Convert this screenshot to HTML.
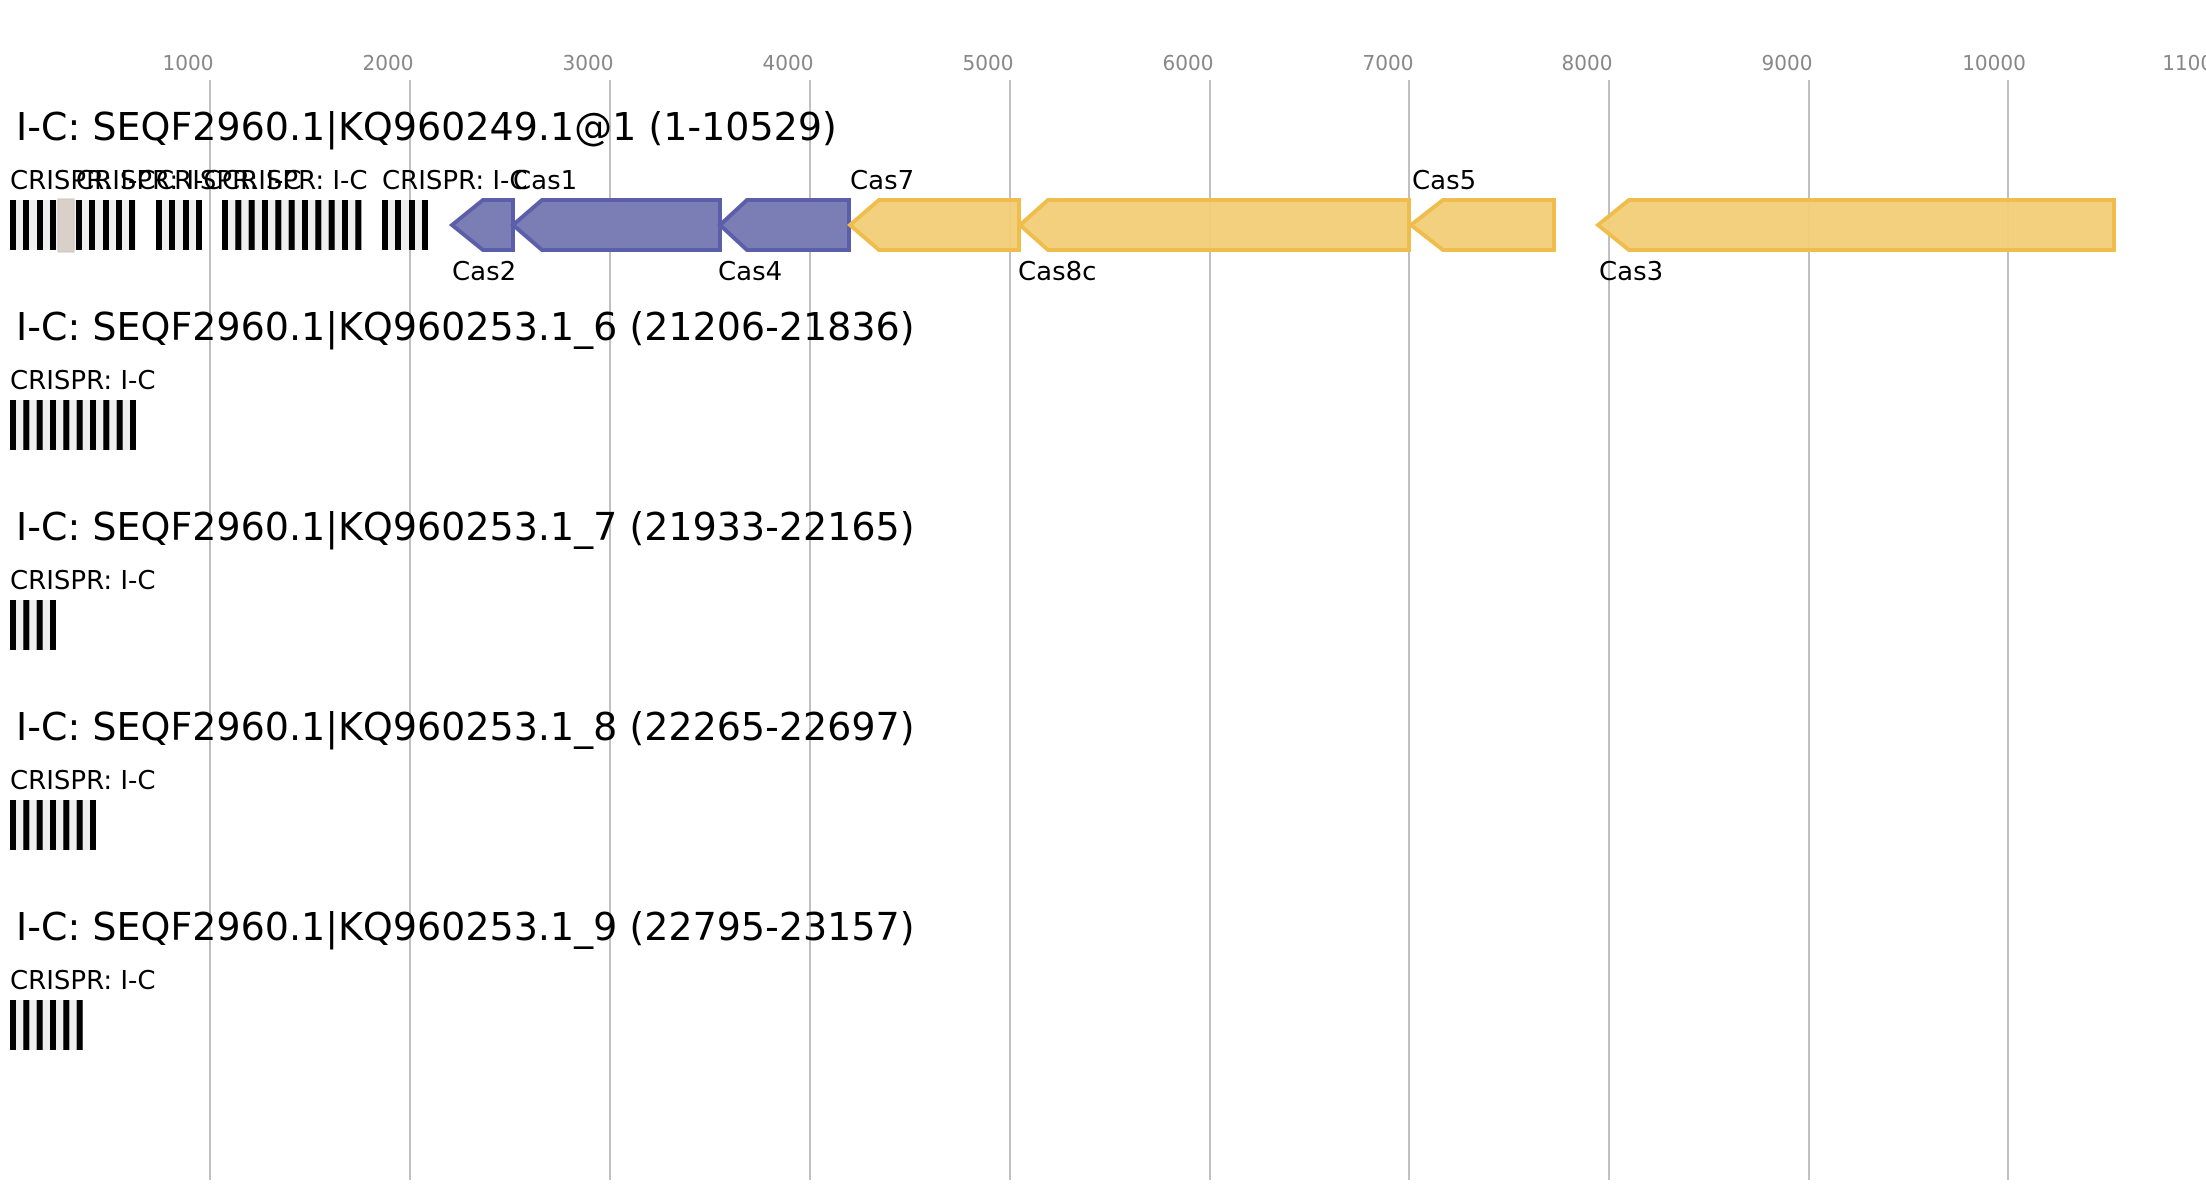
<!DOCTYPE html>
<html><head><meta charset="utf-8"><style>
html,body{margin:0;padding:0;background:#fff;}
svg{display:block;font-family:"DejaVu Sans","Liberation Sans",sans-serif;}
.tk{font-size:20px;fill:#888;text-anchor:middle;}
.ti{font-size:38px;fill:#000;}
.lb{font-size:26px;fill:#000;}
.g{stroke:#c0c0c0;stroke-width:2;}
.bb{fill:#000;}
.bg{fill:#eee;}
.bl{fill:#7b7db5;stroke:#5b5ea8;stroke-width:4;}
.yl{fill:#f1cd76;stroke:#eebd4c;stroke-width:4;}
</style></head><body>
<svg width="2206" height="1200" viewBox="0 0 2206 1200">
<g class="tk">
<text x="188" y="70">1000</text><text x="388" y="70">2000</text><text x="588" y="70">3000</text><text x="788" y="70">4000</text><text x="988" y="70">5000</text><text x="1188" y="70">6000</text><text x="1388" y="70">7000</text><text x="1587" y="70">8000</text><text x="1787" y="70">9000</text><text x="1994" y="70">10000</text><text x="2194" y="70">11000</text>
</g>
<g class="g">
<line x1="210" y1="80" x2="210" y2="1180"/><line x1="410" y1="80" x2="410" y2="1180"/><line x1="610" y1="80" x2="610" y2="1180"/><line x1="810" y1="80" x2="810" y2="1180"/><line x1="1010" y1="80" x2="1010" y2="1180"/><line x1="1210" y1="80" x2="1210" y2="1180"/><line x1="1409" y1="80" x2="1409" y2="1180"/><line x1="1609" y1="80" x2="1609" y2="1180"/><line x1="1809" y1="80" x2="1809" y2="1180"/><line x1="2008" y1="80" x2="2008" y2="1180"/>
</g>

<text class="ti" x="16" y="140">I-C: SEQF2960.1|KQ960249.1@1 (1-10529)</text>
<text class="ti" x="16" y="340">I-C: SEQF2960.1|KQ960253.1_6 (21206-21836)</text>
<text class="ti" x="16" y="540">I-C: SEQF2960.1|KQ960253.1_7 (21933-22165)</text>
<text class="ti" x="16" y="740">I-C: SEQF2960.1|KQ960253.1_8 (22265-22697)</text>
<text class="ti" x="16" y="940">I-C: SEQF2960.1|KQ960253.1_9 (22795-23157)</text>

<!-- row1 CRISPR -->
<g class="lb">
<text x="10" y="189">CRISPR: I-C</text>
<text x="76" y="189">CRISPR: I-C</text>
<text x="156" y="189">CRISPR: I-C</text>
<text x="222" y="189">CRISPR: I-C</text>
<text x="382" y="189">CRISPR: I-C</text>
</g>
<rect class="bg" x="10" y="200" width="126" height="50"/>
<g class="bb">
<rect x="10" y="200" width="6" height="50"/><rect x="23" y="200" width="6" height="50"/><rect x="37" y="200" width="6" height="50"/><rect x="50" y="200" width="6" height="50"/>
<rect x="76" y="200" width="6" height="50"/><rect x="89" y="200" width="6" height="50"/><rect x="103" y="200" width="6" height="50"/><rect x="116" y="200" width="6" height="50"/><rect x="129" y="200" width="6" height="50"/>
</g>
<rect x="58" y="199" width="16" height="53" fill="#d9d0c9" stroke="#cfc4ba" stroke-width="1"/>
<rect class="bg" x="156" y="200" width="46" height="50"/>
<g class="bb"><rect x="156" y="200" width="6" height="50"/><rect x="169" y="200" width="6" height="50"/><rect x="183" y="200" width="6" height="50"/><rect x="196" y="200" width="6" height="50"/></g>
<rect class="bg" x="222" y="200" width="140" height="50"/>
<g class="bb">
<rect x="222" y="200" width="6" height="50"/><rect x="235.3" y="200" width="6" height="50"/><rect x="248.7" y="200" width="6" height="50"/><rect x="262" y="200" width="6" height="50"/><rect x="275.3" y="200" width="6" height="50"/><rect x="288.7" y="200" width="6" height="50"/><rect x="302" y="200" width="6" height="50"/><rect x="315.3" y="200" width="6" height="50"/><rect x="328.7" y="200" width="6" height="50"/><rect x="342" y="200" width="6" height="50"/><rect x="355.3" y="200" width="6" height="50"/>
</g>
<rect class="bg" x="382" y="200" width="46" height="50"/>
<g class="bb"><rect x="382" y="200" width="6" height="50"/><rect x="395" y="200" width="6" height="50"/><rect x="409" y="200" width="6" height="50"/><rect x="422" y="200" width="6" height="50"/></g>

<!-- genes -->
<polygon class="bl" points="452,225 483,200 513,200 513,250 483,250"/>
<polygon class="bl" points="513,225 542,200 720,200 720,250 542,250"/>
<polygon class="bl" points="720,225 747,200 849,200 849,250 747,250"/>
<polygon class="yl" fill-opacity="0.95" points="850,225 879,200 1019,200 1019,250 879,250"/>
<polygon class="yl" fill-opacity="0.95" points="1020,225 1048,200 1409,200 1409,250 1048,250"/>
<polygon class="yl" fill-opacity="0.95" points="1411,225 1443,200 1554,200 1554,250 1443,250"/>
<polygon class="yl" fill-opacity="0.95" points="1598,225 1629,200 2114,200 2114,250 1629,250"/>
<g class="lb">
<text x="513" y="189">Cas1</text><text x="850" y="189">Cas7</text><text x="1412" y="189">Cas5</text>
<text x="452" y="280">Cas2</text><text x="718" y="280">Cas4</text><text x="1018" y="280">Cas8c</text><text x="1599" y="280">Cas3</text>
</g>

<!-- row2 -->
<text class="lb" x="10" y="389">CRISPR: I-C</text>
<rect class="bg" x="10" y="400" width="126" height="50"/>
<g class="bb">
<rect x="10" y="400" width="6" height="50"/><rect x="23.3" y="400" width="6" height="50"/><rect x="36.7" y="400" width="6" height="50"/><rect x="50" y="400" width="6" height="50"/><rect x="63.3" y="400" width="6" height="50"/><rect x="76.7" y="400" width="6" height="50"/><rect x="90" y="400" width="6" height="50"/><rect x="103.3" y="400" width="6" height="50"/><rect x="116.7" y="400" width="6" height="50"/><rect x="130" y="400" width="6" height="50"/>
</g>
<!-- row3 -->
<text class="lb" x="10" y="589">CRISPR: I-C</text>
<rect class="bg" x="10" y="600" width="46" height="50"/>
<g class="bb"><rect x="10" y="600" width="6" height="50"/><rect x="23.3" y="600" width="6" height="50"/><rect x="36.7" y="600" width="6" height="50"/><rect x="50" y="600" width="6" height="50"/></g>
<!-- row4 -->
<text class="lb" x="10" y="789">CRISPR: I-C</text>
<rect class="bg" x="10" y="800" width="86" height="50"/>
<g class="bb"><rect x="10" y="800" width="6" height="50"/><rect x="23.3" y="800" width="6" height="50"/><rect x="36.7" y="800" width="6" height="50"/><rect x="50" y="800" width="6" height="50"/><rect x="63.3" y="800" width="6" height="50"/><rect x="76.7" y="800" width="6" height="50"/><rect x="90" y="800" width="6" height="50"/></g>
<!-- row5 -->
<text class="lb" x="10" y="989">CRISPR: I-C</text>
<rect class="bg" x="10" y="1000" width="73" height="50"/>
<g class="bb"><rect x="10" y="1000" width="6" height="50"/><rect x="23.3" y="1000" width="6" height="50"/><rect x="36.7" y="1000" width="6" height="50"/><rect x="50" y="1000" width="6" height="50"/><rect x="63.3" y="1000" width="6" height="50"/><rect x="76.7" y="1000" width="6" height="50"/></g>
</svg>
</body></html>
